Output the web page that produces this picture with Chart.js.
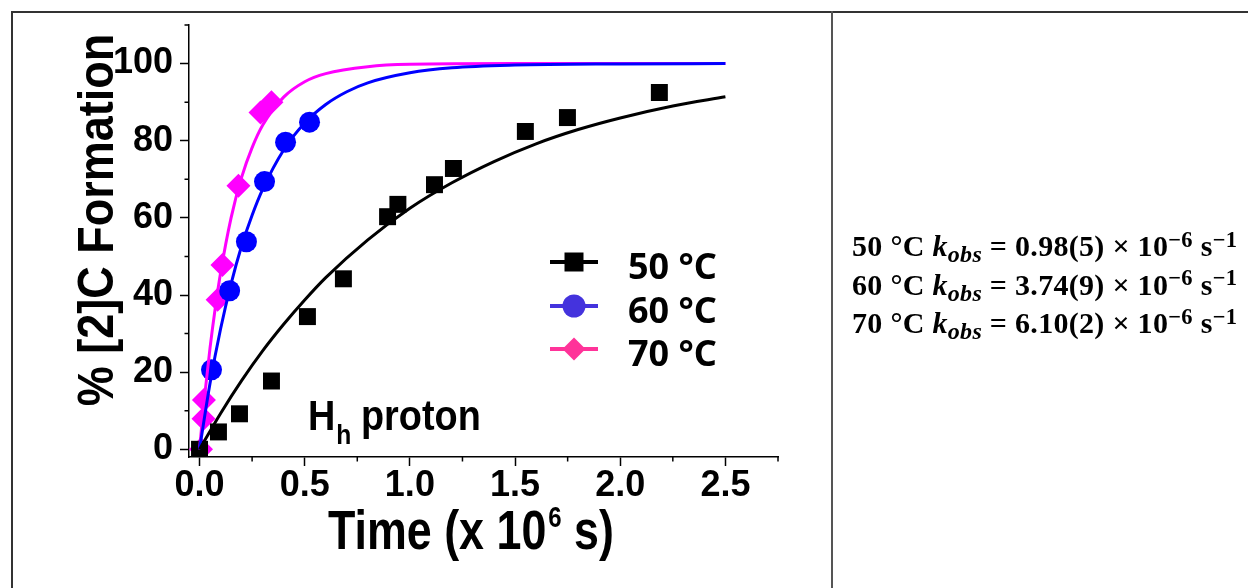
<!DOCTYPE html>
<html>
<head>
<meta charset="utf-8">
<script src="https://cdn.jsdelivr.net/npm/chart.js@4.4.1/dist/chart.umd.min.js"></script>
<style>
  html, body { margin: 0; padding: 0; background: #fff; }
  body { width: 1248px; height: 588px; position: relative; overflow: hidden; }
  #plot { position: absolute; left: 0; top: 0; }
  .rule { position: absolute; background: #333; }
  #rates { position: absolute; left: 852px; top: 227px; color: #000; white-space: nowrap; letter-spacing: 0.3px;
           font: bold 30px "Liberation Serif", "Times New Roman", serif; line-height: 38.5px; }
  #rates sub, #rates sup { position: relative; vertical-align: baseline; line-height: 0; }
  #rates sup { font-size: 0.75em; top: -0.42em; }
  #rates sub { font-size: 0.8em; top: 0.25em; }
</style>
</head>
<body>
<div class="rule" style="left:11px;top:11px;width:1237px;height:2px"></div>
<div class="rule" style="left:11px;top:11px;width:2px;height:577px"></div>
<div class="rule" style="left:831px;top:11px;width:2px;height:577px;background:#555"></div>
<canvas id="plot" width="1248" height="588"></canvas>
<div id="rates"></div>

<script>
// measured points: time in 10^6 s, % [2]C formed
const t50 = [0, 0.090, 0.190, 0.342, 0.513, 0.684, 0.894, 0.943, 1.117, 1.207, 1.549, 1.749, 2.186];
const y50 = [0, 4.5, 9.2, 17.7, 34.4, 44.2, 60.3, 63.5, 68.6, 72.8, 82.4, 86.0, 92.5];
const t60 = [0.057, 0.143, 0.223, 0.309, 0.409, 0.523];
const y60 = [20.6, 41.1, 53.8, 69.4, 79.6, 84.8];
const t70 = [0.007, 0.019, 0.021, 0.086, 0.109, 0.185, 0.290, 0.342];
const y70 = [0, 7.9, 12.8, 38.8, 47.8, 68.3, 87.3, 90.0];

// first-order fit curves
const fitT50 = [0, 0.1, 0.2, 0.3, 0.4, 0.5, 0.6, 0.8, 1.0, 1.2, 1.4, 1.6, 1.8, 2.0, 2.25, 2.5];
const fit50  = [0, 9.3, 17.8, 25.5, 32.4, 38.7, 44.5, 54.3, 62.5, 69.1, 74.6, 79.2, 82.9, 85.9, 89.0, 91.4];
const fitT60 = [0, 0.05, 0.1, 0.15, 0.2, 0.25, 0.3, 0.4, 0.5, 0.6, 0.7, 0.8, 1.0, 1.2, 1.5, 2.0, 2.5];
const fit60  = [0, 17.1, 31.2, 42.9, 52.7, 60.7, 67.4, 77.6, 84.6, 89.4, 92.7, 95.0, 97.6, 98.9, 99.6, 99.9, 100];
const fitT70 = [0, 0.025, 0.05, 0.075, 0.1, 0.15, 0.2, 0.25, 0.3, 0.4, 0.5, 0.6, 0.8, 1.0, 1.5, 2.0, 2.5];
const fit70  = [0, 14.1, 26.3, 36.7, 45.7, 60.0, 70.5, 78.2, 84.0, 91.3, 95.3, 97.4, 99.2, 99.8, 100, 100, 100];

const seriesNames = ['50 °C', '60 °C', '70 °C'];
const kobs = ['0.98(5)', '3.74(9)', '6.10(2)'];

const xTicks = [0, 0.25, 0.5, 0.75, 1, 1.25, 1.5, 1.75, 2, 2.25, 2.5, 2.75];
const xMajor = [0, 0.5, 1, 1.5, 2, 2.5];
const yTicks = [0, 10, 20, 30, 40, 50, 60, 70, 80, 90, 100, 110];
const yMajor = [0, 20, 40, 60, 80, 100];

function pts(xs, ys) {
  return xs.map((x, i) => ({ x: x, y: ys[i] }));
}

// rate constants, right-hand column
document.getElementById('rates').innerHTML = seriesNames.map((n, i) =>
  '<div>' + n + ' <i>k<sub>obs</sub></i> = ' + kobs[i] +
  ' × 10<sup>−6</sup> s<sup>−1</sup></div>').join('');

const tickFont = { family: '"Liberation Sans", Arial, sans-serif', size: 36, weight: 'bold', lineHeight: 1 };

function condensed(ctx, text, x, y, font, sx) {
  ctx.save();
  ctx.translate(x, y);
  ctx.scale(sx, 1);
  ctx.font = font;
  ctx.textAlign = 'left';
  ctx.textBaseline = 'alphabetic';
  ctx.fillText(text, 0, 0);
  const w = ctx.measureText(text).width * sx;
  ctx.restore();
  return w;
}

// minor ticks, axis titles, annotation and legend
const decor = {
  id: 'decor',
  afterDraw(chart) {
    const ctx = chart.ctx;
    const x = chart.scales.x, y = chart.scales.y;
    ctx.save();
    ctx.strokeStyle = '#000';
    ctx.lineWidth = 1.5;
    ctx.beginPath();
    xTicks.filter(v => !xMajor.includes(v)).forEach(v => {
      const px = x.getPixelForValue(v);
      ctx.moveTo(px, x.top); ctx.lineTo(px, x.top + 4.5);
    });
    yTicks.filter(v => !yMajor.includes(v)).forEach(v => {
      const py = y.getPixelForValue(v);
      ctx.moveTo(y.right - 4.5, py); ctx.lineTo(y.right, py);
    });
    ctx.stroke();

    ctx.fillStyle = '#000';
    const sans = '"Liberation Sans", Arial, sans-serif';

    // y title
    ctx.save();
    ctx.translate(113, 220);
    ctx.rotate(-Math.PI / 2);
    ctx.scale(0.9, 1);
    ctx.font = 'bold 50px ' + sans;
    ctx.textAlign = 'center';
    ctx.fillText('% [2]C Formation', 0, 0);
    ctx.restore();

    // x title
    let cx = 328;
    cx += condensed(ctx, 'Time (x 10', cx, 549, 'bold 56px ' + sans, 0.8);
    cx += 2 + condensed(ctx, '6', cx + 2, 527, 'bold 30px ' + sans, 0.8);
    condensed(ctx, ' s)', cx, 549, 'bold 56px ' + sans, 0.8);

    // H_h proton
    let hx = 308;
    hx += condensed(ctx, 'H', hx, 430, 'bold 43px ' + sans, 0.88);
    condensed(ctx, 'h', hx + 1, 444, 'bold 28px ' + sans, 0.88);
    condensed(ctx, 'proton', 361, 430, 'bold 43px ' + sans, 0.88);

    // legend
    const rows = [262, 306, 349];
    const lcol = ['#000000', '#4433dd', '#ff3399'];
    rows.forEach((ry, i) => {
      ctx.strokeStyle = lcol[i];
      ctx.fillStyle = lcol[i];
      ctx.lineWidth = 4;
      ctx.beginPath();
      ctx.moveTo(550, ry); ctx.lineTo(598, ry);
      ctx.stroke();
      ctx.beginPath();
      if (i === 0) {
        ctx.rect(564.5, ry - 9.5, 19, 19);
      } else if (i === 1) {
        ctx.arc(574, ry, 11.5, 0, Math.PI * 2);
      } else {
        ctx.moveTo(574 - 11.5, ry); ctx.lineTo(574, ry - 11.5);
        ctx.lineTo(574 + 11.5, ry); ctx.lineTo(574, ry + 11.5);
        ctx.closePath();
      }
      ctx.fill();
      ctx.fillStyle = '#000';
      ctx.font = 'bold 36px "Noto Sans", "Open Sans", sans-serif';
      ctx.textAlign = 'left';
      ctx.fillText(seriesNames[i], 628, ry + 17);
    });
    ctx.restore();
  }
};

const fitLine = (data, color) => ({
  data: data, showLine: true, borderColor: color, borderWidth: 3,
  pointRadius: 0, cubicInterpolationMode: 'monotone', order: 0
});

new Chart(document.getElementById('plot'), {
  type: 'scatter',
  data: {
    datasets: [
      { data: pts(t50, y50), pointStyle: 'rect', pointRadius: 12, backgroundColor: '#000', borderWidth: 0, order: 1 },
      { data: pts(t60, y60), pointStyle: 'circle', pointRadius: 10.5, backgroundColor: '#0000ff', borderWidth: 0, order: 1 },
      { data: pts(t70, y70), pointStyle: 'rectRot', pointRadius: 12, backgroundColor: '#ff00ff', borderWidth: 0, order: 1 },
      fitLine(pts(fitT50, fit50), '#000000'),
      fitLine(pts(fitT60, fit60), '#0000ff'),
      fitLine(pts(fitT70, fit70), '#ff00ff')
    ]
  },
  options: {
    responsive: false,
    animation: false,
    devicePixelRatio: 1,
    events: [],
    layout: { padding: { top: 25, right: 470, left: 0, bottom: 0 } },
    plugins: { legend: { display: false }, tooltip: { enabled: false } },
    scales: {
      x: {
        type: 'linear', min: -0.05, max: 2.75,
        afterBuildTicks: s => { s.ticks = xTicks.map(v => ({ value: v })); },
        afterFit: s => { s.height = 131; },
        border: { color: '#000', width: 1.5 },
        grid: { drawOnChartArea: false, tickLength: 9, tickWidth: 1.5,
                tickColor: c => xMajor.includes(c.tick.value) ? '#000' : 'rgba(0,0,0,0)' },
        ticks: { autoSkip: false, maxRotation: 0, padding: 2, color: '#000', font: tickFont,
                 callback: v => xMajor.includes(v) ? v.toFixed(1) : '' }
      },
      y: {
        type: 'linear', min: -2, max: 110,
        afterBuildTicks: s => { s.ticks = yTicks.map(v => ({ value: v })); },
        afterFit: s => { s.width = 189; },
        border: { color: '#000', width: 1.5 },
        grid: { drawOnChartArea: false, tickLength: 9, tickWidth: 1.5,
                tickColor: c => yMajor.includes(c.tick.value) ? '#000' : 'rgba(0,0,0,0)' },
        ticks: { autoSkip: false, padding: 7, color: '#000', font: tickFont,
                 callback: v => yMajor.includes(v) ? String(v) : '' }
      }
    }
  },
  plugins: [decor]
});
</script>
</body>
</html>
